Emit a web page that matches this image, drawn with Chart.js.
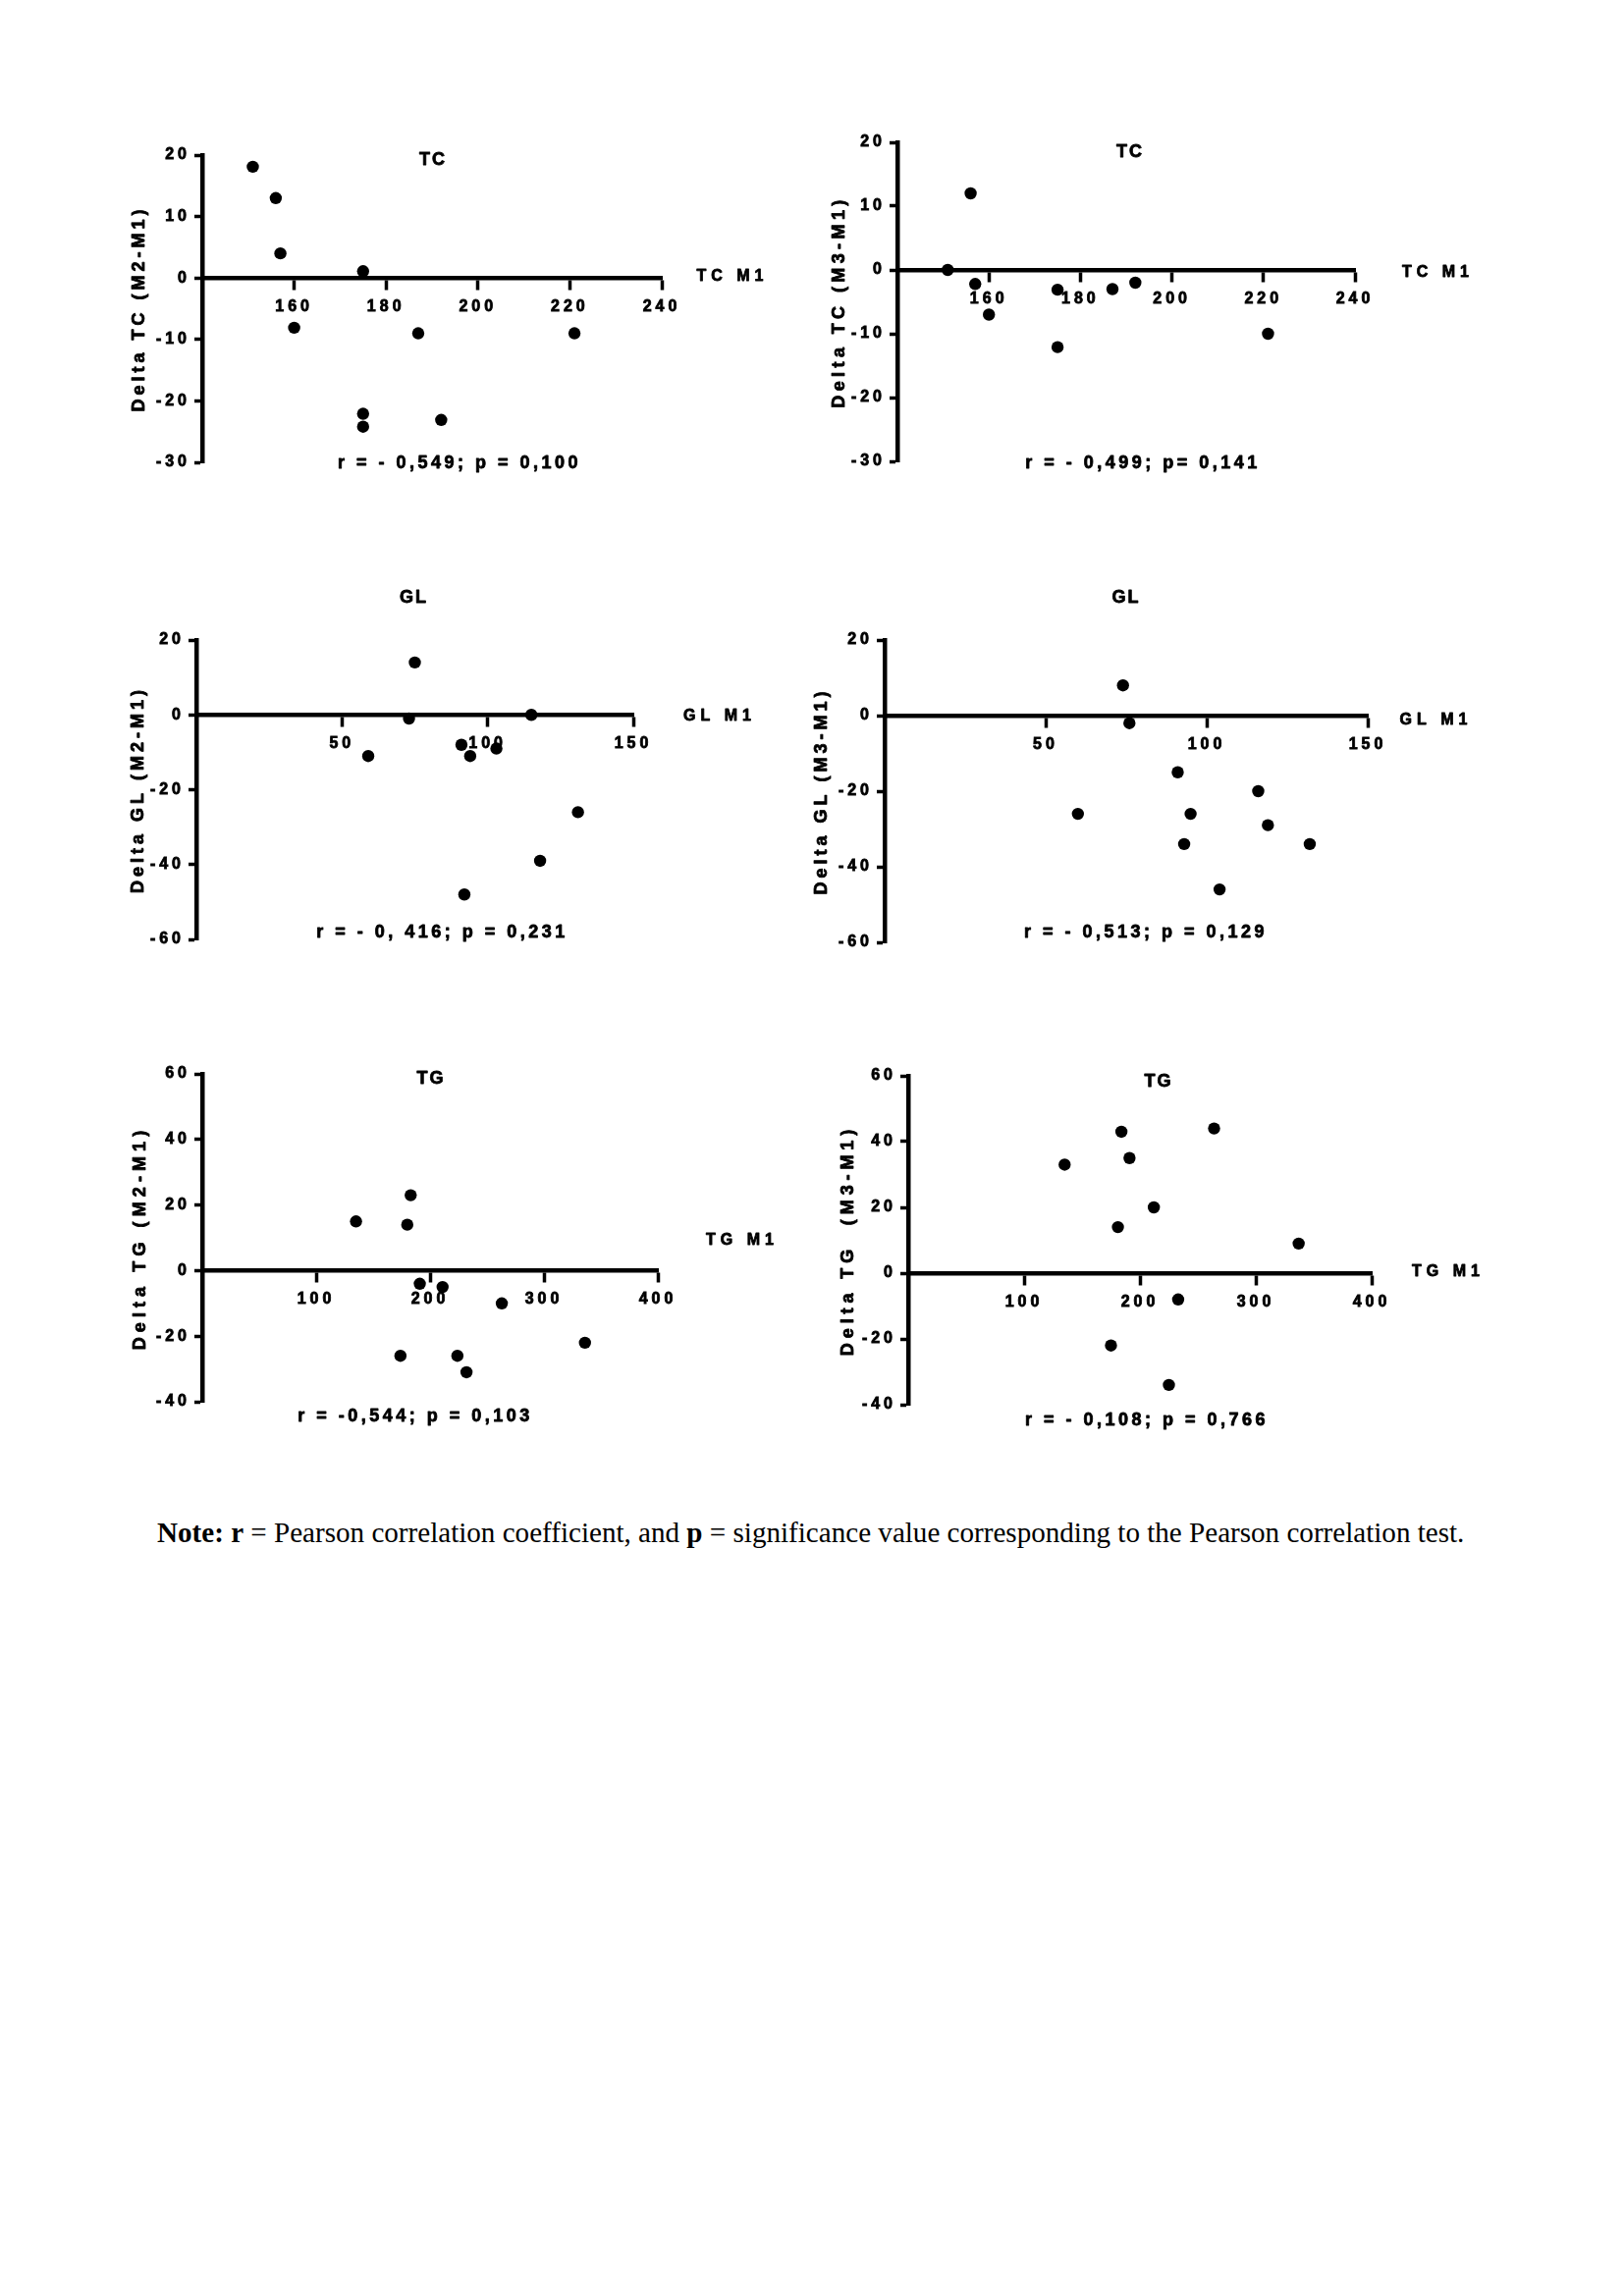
<!DOCTYPE html>
<html>
<head>
<meta charset="utf-8">
<script src="https://cdn.jsdelivr.net/npm/chart.js@4.4.1/dist/chart.umd.min.js"></script>
<style>
  html, body { margin: 0; padding: 0; background: #fff; }
  #page { position: relative; width: 1654px; height: 2339px; overflow: hidden; }
  #page canvas { position: absolute; }
  #note {
    position: absolute; left: 160px; top: 1545px;
    font-family: 'Liberation Serif', 'Times New Roman', serif;
    font-size: 29.1px; white-space: nowrap; color: #000;
  }
</style>
</head>
<body>
<div id="page">
  <div id="note"><b>Note:</b> <b>r</b> = Pearson correlation coefficient, and <b>p</b> = significance value corresponding to the Pearson correlation test.</div>
</div>
<script>
// ---- values ----
// TC
const tcM1_m2 = [151, 156, 157, 160, 175, 175, 175, 187, 192, 221];
const tcDelta_m2 = [18.1, 13, 4, -8.1, 1.1, -22.1, -24.2, -9, -23.1, -9];
const tcM1_m3 = [151, 156, 157, 160, 175, 175, 187, 192, 221];
const tcDelta_m3 = [0, 12, -2.2, -7, -3.1, -12.1, -3, -2, -10];
// GL
const glM1_m2 = [59, 73, 75, 91, 92, 94, 103, 115, 118, 131];
const glDelta_m2 = [-11, -1, 14, -8, -48, -11, -9, 0, -39, -26];
const glM1_m3 = [60, 74, 76, 91, 93, 95, 104, 116, 119, 132];
const glDelta_m3 = [-26, 8, -2, -15, -34, -26, -46, -20, -29, -34];
// TG
const tgM1_m2 = [135, 174, 180, 183, 191, 211, 224, 232, 263, 336];
const tgDelta_m2 = [15, -26, 14, 23, -4, -5, -26, -31, -10, -22];
const tgM1_m3 = [135, 175, 181, 184, 191, 212, 225, 233, 264, 337];
const tgDelta_m3 = [33, -22, 14, 43, 35, 20, -34, -8, 44, 9];

// axis ranges and tick labels
const tcXRange = [140, 240], tcXTicks = [160, 180, 200, 220, 240];
const tcYRange = [-30, 20], tcYTicks = [-30, -20, -10, 0, 10, 20];
const glXRange = [0, 150], glXTicks = [50, 100, 150];
const glYRange = [-60, 20], glYTicks = [-60, -40, -20, 0, 20];
const tgXRange = [0, 400], tgXTicks = [100, 200, 300, 400];
const tgYRange = [-40, 60], tgYTicks = [-40, -20, 0, 20, 40, 60];

const panelTitles = ['TC', 'TC', 'GL', 'GL', 'TG', 'TG'];
const xTitles = ['TC M1', 'TC M1', 'GL M1', 'GL M1', 'TG M1', 'TG M1'];
const yTitles = ['Delta TC (M2-M1)', 'Delta TC (M3-M1)', 'Delta GL (M2-M1)',
                 'Delta GL (M3-M1)', 'Delta TG (M2-M1)', 'Delta TG  (M3-M1)'];
const statTexts = ['r = - 0,549; p = 0,100', 'r = - 0,499; p= 0,141', 'r = - 0, 416; p = 0,231',
                   'r = - 0,513; p = 0,129', 'r = -0,544; p = 0,103', 'r = - 0,108; p = 0,766'];

// ---- layout: page pixels of each plot box, text offsets ----
const PAD_L = 30, Y_W = 60, PAD_T = 60, PAD_R = 140, PAD_B = 35;
const FONT = "'Liberation Sans', Arial, sans-serif";
const INK = 0.8;   // extra stroke so the bold text is as heavy as the original

// titleAt: from box centre / top; xlabAt: from box right / y=0 line; statAt: from box centre / bottom
// ylabAt: [baseline distance left of axis, letter spacing]
const panels = [
    { box: [206, 157.5, 673.5, 470.7], xs: tcM1_m2, ys: tcDelta_m2, xr: tcXRange, xt: tcXTicks, yr: tcYRange, yt: tcYTicks,
      titleAt: [1, 5], xlabAt: [35.5, -2], statAt: [28, 1], ylabAt: [59, 4] },
    { box: [913.5, 145, 1379, 470], xs: tcM1_m3, ys: tcDelta_m3, xr: tcXRange, xt: tcXTicks, yr: tcYRange, yt: tcYTicks,
      titleAt: [4, 10], xlabAt: [48, 3], statAt: [17, 1.7], ylabAt: [54, 4.4] },
    { box: [200, 651.5, 644.6, 956.7], xs: glM1_m2, ys: glDelta_m2, xr: glXRange, xt: glXTicks, yr: glYRange, yt: glYTicks,
      titleAt: [-1, -43], xlabAt: [51, 1.5], statAt: [28, -7], ylabAt: [54, 4] },
    { box: [901, 652.3, 1392.5, 960], xs: glM1_m3, ys: glDelta_m3, xr: glXRange, xt: glXTicks, yr: glYRange, yt: glYTicks,
      titleAt: [0, -43], xlabAt: [32.5, 5], statAt: [20, -10], ylabAt: [59, 4] },
    { box: [205.5, 1094, 669, 1428.3], xs: tgM1_m2, ys: tgDelta_m2, xr: tgXRange, xt: tgXTicks, yr: tgYRange, yt: tgYTicks,
      titleAt: [1, 5], xlabAt: [49, -31], statAt: [-15, 15.4], ylabAt: [58, 5.1] },
    { box: [925, 1096, 1397.3, 1430.7], xs: tgM1_m3, ys: tgDelta_m3, xr: tgXRange, xt: tgXTicks, yr: tgYRange, yt: tgYTicks,
      titleAt: [19, 5.7], xlabAt: [41, -1], statAt: [7, 15.6], ylabAt: [56, 4.9] }
];

function inkText(ctx, s, x, y) {
    ctx.fillText(s, x, y);
    ctx.strokeText(s, x, y);
}

// draws panel title, x label, rotated y label and the r/p line
const panelText = {
    id: 'panelText',
    beforeDraw(chart) {
        chart.ctx.letterSpacing = '4px';
    },
    afterDraw(chart, args, o) {
        const { ctx, chartArea: a, scales } = chart;
        const y0 = scales.y.getPixelForValue(0);
        const cx = (a.left + a.right) / 2;
        ctx.save();
        ctx.fillStyle = '#000';
        ctx.strokeStyle = '#000';
        ctx.lineWidth = INK;
        ctx.lineJoin = 'round';
        ctx.textBaseline = 'middle';

        ctx.font = 'bold 18px ' + FONT;
        ctx.letterSpacing = '2px';
        ctx.textAlign = 'center';
        inkText(ctx, o.title, cx + o.titleAt[0], a.top + o.titleAt[1]);

        ctx.font = 'bold 16px ' + FONT;
        ctx.textAlign = 'left';
        ctx.letterSpacing = '5px';
        inkText(ctx, o.xlab, a.right + o.xlabAt[0], y0 + o.xlabAt[1]);

        ctx.font = 'bold 18px ' + FONT;
        ctx.textAlign = 'center';
        ctx.letterSpacing = '3.5px';
        inkText(ctx, o.stat, cx + o.statAt[0], a.bottom + o.statAt[1]);

        ctx.letterSpacing = o.ylabAt[1] + 'px';
        ctx.textBaseline = 'alphabetic';
        ctx.translate(a.left - o.ylabAt[0], (a.top + a.bottom) / 2);
        ctx.rotate(-Math.PI / 2);
        inkText(ctx, o.ylab, 0, 0);
        ctx.restore();
    }
};

function makeChart(i) {
    const p = panels[i];
    const [l, t, r, b] = p.box;
    const left = Math.round(l) - PAD_L - Y_W;
    const top = Math.round(t) - PAD_T;
    const canvas = document.createElement('canvas');
    canvas.width = PAD_L + Y_W + Math.round(r - l) + PAD_R;
    canvas.height = PAD_T + Math.round(b - t) + PAD_B;
    canvas.style.left = left + 'px';
    canvas.style.top = top + 'px';
    document.getElementById('page').appendChild(canvas);

    const tickFont = { family: FONT, size: 16, weight: 'bold' };

    new Chart(canvas, {
        type: 'scatter',
        data: {
            datasets: [{
                data: p.xs.map((x, k) => ({ x: x, y: p.ys[k] })),
                backgroundColor: '#000',
                borderColor: '#000',
                borderWidth: 0,
                pointRadius: 6.2,
                clip: false
            }]
        },
        options: {
            responsive: false,
            animation: false,
            events: [],
            layout: { padding: { left: PAD_L, top: PAD_T, right: PAD_R, bottom: PAD_B } },
            plugins: {
                legend: { display: false },
                tooltip: { enabled: false },
                panelText: {
                    title: panelTitles[i], xlab: xTitles[i], ylab: yTitles[i], stat: statTexts[i],
                    titleAt: p.titleAt, xlabAt: p.xlabAt, statAt: p.statAt, ylabAt: p.ylabAt
                }
            },
            scales: {
                x: {
                    type: 'linear',
                    min: p.xr[0], max: p.xr[1],
                    position: { y: 0 },
                    afterBuildTicks: s => { s.ticks = p.xt.map(v => ({ value: v })); },
                    grid: { drawOnChartArea: false, drawTicks: true, tickLength: 10, tickWidth: 3.5, tickColor: '#000' },
                    border: { display: true, color: '#000', width: 4.5 },
                    ticks: { color: '#000', font: tickFont, padding: 10, autoSkip: false, maxRotation: 0,
                             textStrokeColor: '#000', textStrokeWidth: INK }
                },
                y: {
                    type: 'linear',
                    min: p.yr[0], max: p.yr[1],
                    afterBuildTicks: s => { s.ticks = p.yt.map(v => ({ value: v })); },
                    afterFit: s => { s.width = Y_W; },
                    grid: { drawOnChartArea: false, drawTicks: true, tickLength: 8, tickWidth: 3.5, tickColor: '#000' },
                    border: { display: true, color: '#000', width: 4.5 },
                    ticks: { color: '#000', font: tickFont, padding: 4,
                             textStrokeColor: '#000', textStrokeWidth: INK }
                }
            }
        },
        plugins: [panelText]
    });
}

panels.forEach((p, i) => makeChart(i));
</script>
</body>
</html>
